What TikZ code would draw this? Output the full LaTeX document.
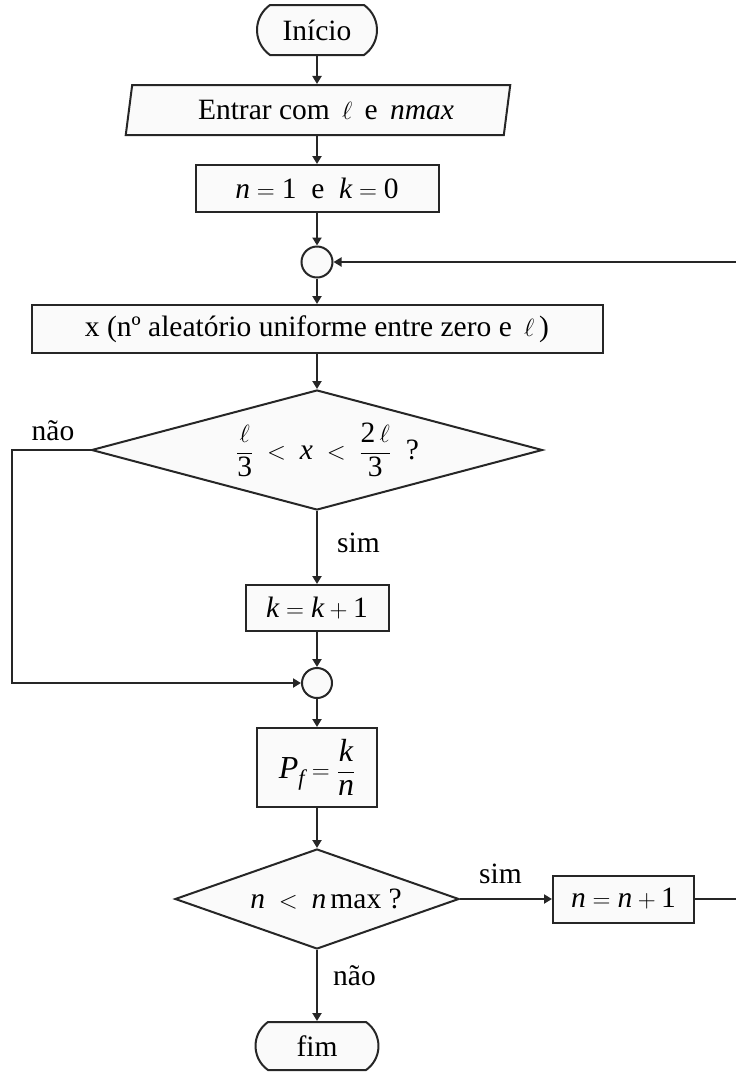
\documentclass[tikz,border=0pt]{standalone}
\usepackage{amsmath}
\usepackage{fontspec}
\setmainfont{Liberation Serif}
\usetikzlibrary{shapes.geometric,shapes.misc,arrows.meta}
% italic and upright text pieces inside formulas
\newcommand\itx[1]{\text{\itshape #1}}
\newcommand\upx[1]{\text{#1}}
\begin{document}
\begin{tikzpicture}[x=1pt,y=-1pt,
  every node/.style={font=\fontsize{29.5}{34}\selectfont, inner sep=0pt},
  line/.style={line width=2pt, draw=black!85},
  flow/.style={line, -{Triangle[length=8pt,width=9pt]}},
  proc/.style={draw=black!85, line width=2pt, fill=black!2, rectangle, inner sep=0pt},
  term/.style={proc, rounded rectangle, rounded rectangle arc length=110},
  joint/.style={proc, circle, minimum size=31pt},
  test/.style={proc, diamond},
]
\useasboundingbox (0,0) rectangle (736,1072);
\clip (0,0) rectangle (736,1072);

% main column
\node[term, minimum width=120pt, minimum height=50pt] (inicio) at (317,30) {Início};
\node[proc, trapezium, trapezium left angle=76.5, trapezium right angle=103.5,
      trapezium stretches=true, minimum width=386pt, minimum height=50pt]
      (par) at (318,110) {\hspace*{16pt}Entrar com \,$\ell$\, e \,\textit{nmax}};
\node[proc, minimum width=243pt, minimum height=47pt] (init) at (317,188.5)
      {$\itx{n} = \upx{1}$ \ e \ $\itx{k} = \upx{0}$};
\node[joint] (c1) at (317,262) {};
\node[proc, minimum width=571pt, minimum height=48pt] (rand) at (317,329)
      {x (nº aleatório uniforme entre zero e \,$\ell$\,)};
\node[test, minimum width=451pt, minimum height=120pt,
      label={[xshift=10.5pt]center:{$\displaystyle\frac{\ell}{\upx{3}} \;<\; \itx{x} \;<\; \frac{\upx{2}\,\ell}{\upx{3}}$ \ ?}}]
      (d1) at (317,450) {};
\node[proc, minimum width=143pt, minimum height=46pt] (inc) at (317,608)
      {$\itx{k} = \itx{k} + \upx{1}$};
\node[joint, minimum size=30pt] (c2) at (317,683) {};
\node[proc, minimum width=120pt, minimum height=79pt,
      font=\fontsize{32}{36}\selectfont] (pf) at (317,767.5)
      {$\itx{P}_{\itx{f}} = \displaystyle\frac{\itx{k}}{\itx{n}}$};
\node[test, minimum width=284pt, minimum height=100pt,
      label={[xshift=9pt]center:{$\itx{n} \;<\; \itx{n}\,\upx{max}$ ?}}]
      (d2) at (317,899) {};
\node[proc, minimum width=141pt, minimum height=47pt] (incn) at (623.5,899)
      {$\itx{n} = \itx{n} + \upx{1}$};
\node[term, minimum width=123pt, minimum height=48pt] (fim) at (317,1046) {fim};

% branch labels
\node[anchor=base] (nao1) at (53,440) {não};
\node[anchor=base west] (sim1) at (337,552) {sim};
\node[anchor=base west] (sim2) at (479,883) {sim};
\node[anchor=base west] (nao2) at (333,985) {não};

% bend points of the two loops
\coordinate (back) at (770,899);
\coordinate (left) at (12,683);

% connectors
\draw[flow] (inicio.south) -- (inicio.south |- par.north);
\draw[flow] (init.north |- par.south) -- (init.north);
\draw[flow] (init.south) -- (c1.north);
\draw[flow] (c1.south) -- (rand.north);
\draw[flow] (rand.south) -- (d1.north);
\draw[flow] (d1.south) -- (inc.north);
\draw[flow] (inc.south) -- (c2.north);
\draw[flow] (c2.south) -- (pf.north);
\draw[flow] (pf.south) -- (d2.north);
\draw[flow] (d2.south) -- (fim.north);
\draw[flow] (d2.east) -- (incn.west);
\draw[flow] (incn.east) -- (back) |- (c1.east);
\draw[flow] (d1.west) -| (left) -- (c2.west);
\end{tikzpicture}
\end{document}
